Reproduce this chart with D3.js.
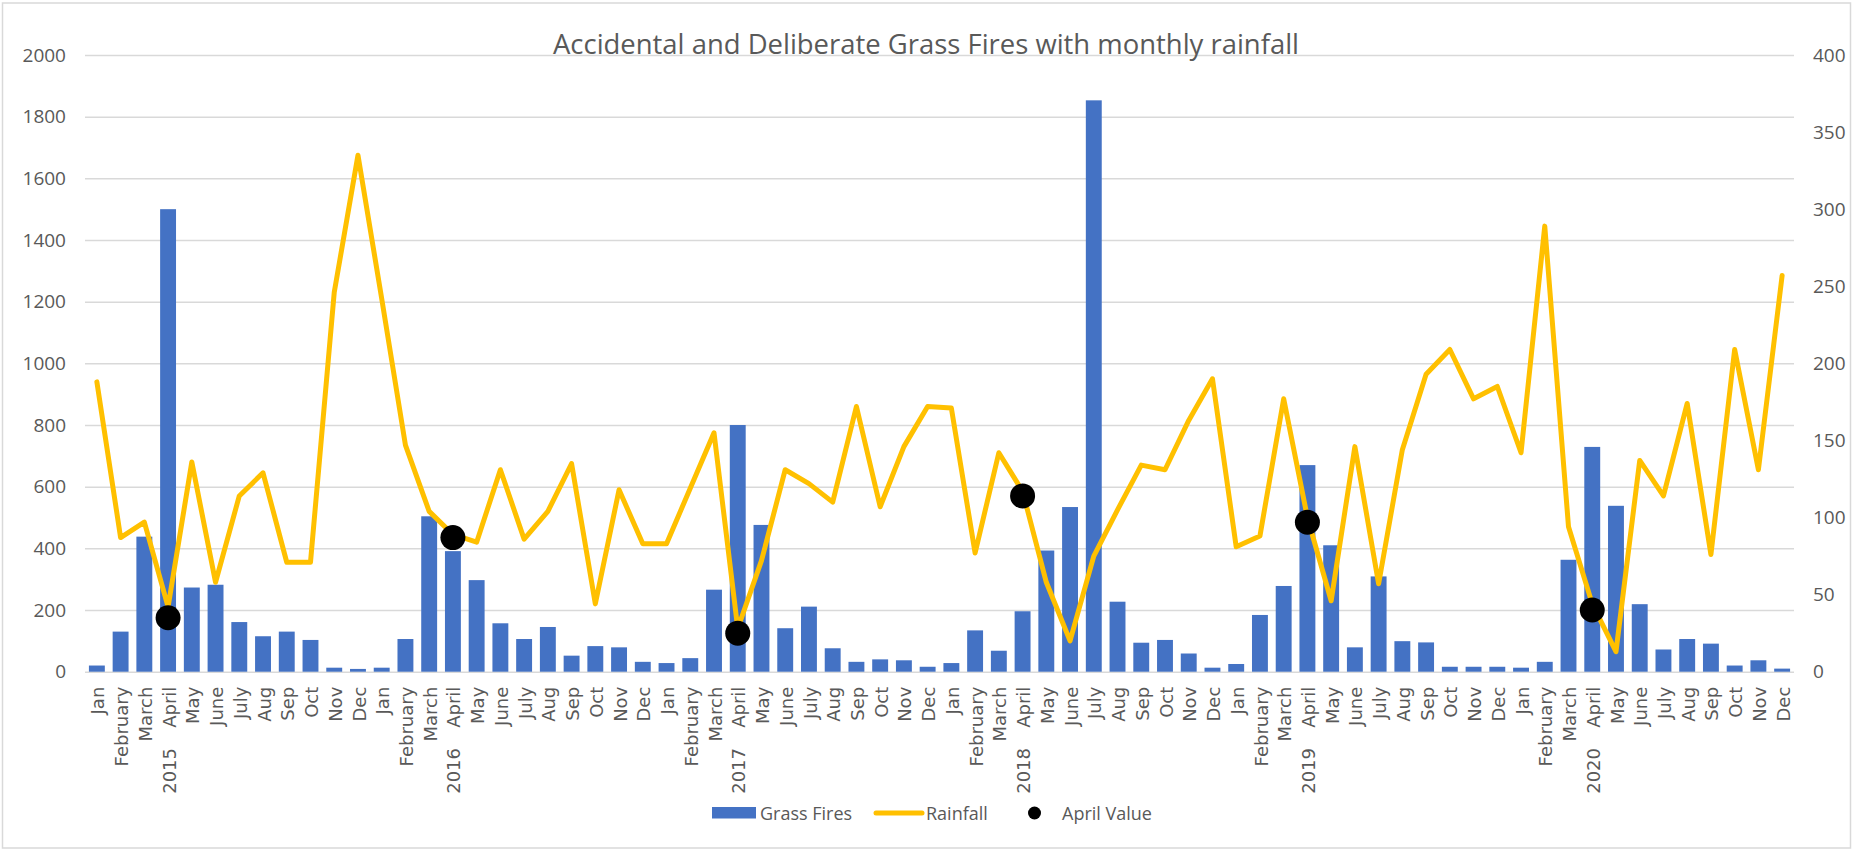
<!DOCTYPE html>
<html>
  <head>
    <meta charset="utf-8">
    <title>Grass Fires and Rainfall</title>
    <style>
      body {
        margin: 0;
        background: #ffffff;
      }
      text {
        fill: #595959;
      }
    </style>
    <script src="https://d3js.org/d3.v7.min.js"></script>
  </head>
  <body>
    <svg id="chart"></svg>
    <script>
      // Data (2015 - 2020, monthly)
      let years = ['2015', '2016', '2017', '2018', '2019', '2020'];
      let monthNames = ['Jan', 'February', 'March', 'April', 'May', 'June',
                        'July', 'Aug', 'Sep', 'Oct', 'Nov', 'Dec'];

      let grassFires = [
        20, 130, 438, 1500, 273, 282, 161, 115, 130, 103, 13, 9,
        13, 106, 504, 391, 297, 157, 106, 145, 52, 83, 79, 32,
        28, 44, 266, 800, 476, 141, 211, 76, 32, 40, 37, 16,
        28, 134, 68, 196, 393, 534, 1853, 227, 94, 103, 59, 13,
        25, 184, 278, 670, 410, 79, 309, 99, 95, 16, 16, 16,
        13, 32, 363, 729, 538, 219, 72, 106, 91, 20, 37, 10
      ];

      let rainfall = [
        188, 87, 97, 42, 136, 58, 114, 129, 71, 71, 246, 335,
        242, 147, 104, 89, 84, 131, 86, 104, 135, 44, 118, 83,
        83, 119, 155, 28, 72, 131, 122, 110, 172, 107, 146, 172,
        171, 77, 142, 117, 58, 20, 75, 105, 134, 131, 163, 190,
        81, 88, 177, 100, 46, 146, 57, 144, 193, 209, 177, 185,
        142, 289, 94, 44, 13, 137, 114, 174, 76, 209, 131, 257
      ];

      // the black markers, one per April
      let aprilValue = [35, 87, 25, 114, 97, 40];

      let leftTicks = [0, 200, 400, 600, 800, 1000, 1200, 1400, 1600, 1800, 2000];
      let rightTicks = [0, 50, 100, 150, 200, 250, 300, 350, 400];

      // Build one row per month
      let rows = grassFires.map((v, i) => ({
        key: i,
        month: monthNames[i % 12],
        year: years[Math.floor(i / 12)],
        fires: v,
        rain: rainfall[i]
      }));
      let aprils = years.map((y, k) => ({ key: k * 12 + 3, year: y, value: aprilValue[k] }));

      let width = 1853;
      let height = 851;
      let plotLeft = 85;
      let plotRight = 1794;
      let plotTop = 55;
      let plotBottom = 671.7;

      let svg = d3.select('#chart')
        .attr('width', width)
        .attr('height', height);

      // chart area border
      svg.append('rect')
        .attr('x', 2.5)
        .attr('y', 3)
        .attr('width', width - 5)
        .attr('height', height - 6)
        .attr('fill', '#ffffff')
        .attr('stroke', '#d9d9d9')
        .attr('stroke-width', 1.5);

      let xScale = d3.scaleBand()
        .domain(rows.map(d => d.key))
        .range([plotLeft, plotRight])
        .paddingInner(0.33)
        .paddingOuter(0.165);

      let yLeft = d3.scaleLinear()
        .domain([0, 2000])
        .range([plotBottom, plotTop]);

      let yRight = d3.scaleLinear()
        .domain([0, 400])
        .range([plotBottom, plotTop]);

      let xCenter = k => xScale(k) + xScale.bandwidth() / 2;

      // gridlines
      svg.append('g')
        .attr('transform', `translate(${plotLeft},0)`)
        .call(d3.axisLeft(yLeft).tickValues(leftTicks).tickSize(-(plotRight - plotLeft)).tickFormat(''))
        .call(g => g.select('.domain').remove())
        .call(g => g.selectAll('line').attr('stroke', '#d9d9d9').attr('stroke-width', 1.5));

      // left axis labels
      svg.append('g')
        .attr('transform', `translate(${plotLeft},0)`)
        .call(d3.axisLeft(yLeft).tickValues(leftTicks).tickSize(0).tickPadding(19).tickFormat(d3.format('d')))
        .call(g => g.select('.domain').remove())
        .call(g => g.selectAll('text')
          .attr('font-family', '"Open Sans", sans-serif')
          .attr('font-size', 19)
          .style('fill', '#595959'));

      // right axis labels
      svg.append('g')
        .attr('transform', `translate(${plotRight},0)`)
        .call(d3.axisRight(yRight).tickValues(rightTicks).tickSize(0).tickPadding(19).tickFormat(d3.format('d')))
        .call(g => g.select('.domain').remove())
        .call(g => g.selectAll('text')
          .attr('font-family', '"Open Sans", sans-serif')
          .attr('font-size', 19)
          .style('fill', '#595959'));

      // bars
      svg.append('g')
        .selectAll('rect')
        .data(rows)
        .join('rect')
        .attr('x', d => xScale(d.key))
        .attr('y', d => yLeft(d.fires))
        .attr('width', xScale.bandwidth())
        .attr('height', d => yLeft(0) - yLeft(d.fires))
        .attr('fill', '#4472c4');

      // month labels along the bottom
      svg.append('g')
        .attr('transform', `translate(0,${plotBottom})`)
        .call(d3.axisBottom(xScale).tickSize(0).tickFormat(k => rows[k].month))
        .call(g => g.select('.domain').remove())
        .call(g => g.selectAll('text')
          .attr('font-family', '"DejaVu Sans", Verdana, sans-serif')
          .attr('font-size', 18)
          .attr('transform', 'rotate(-90)')
          .attr('text-anchor', 'end')
          .attr('x', -15)
          .attr('y', 0)
          .attr('dy', '0.42em')
          .style('fill', '#595959'));

      // year labels under each April
      svg.append('g')
        .selectAll('text')
        .data(aprils)
        .join('text')
        .attr('transform', d => `translate(${xCenter(d.key)},748) rotate(-90)`)
        .attr('text-anchor', 'end')
        .attr('dy', '0.42em')
        .attr('font-family', '"DejaVu Sans", Verdana, sans-serif')
        .attr('font-size', 18)
        .text(d => d.year);

      // rainfall line
      let rainLine = d3.line()
        .x(d => xCenter(d.key))
        .y(d => yRight(d.rain));

      svg.append('path')
        .datum(rows)
        .attr('d', rainLine)
        .attr('fill', 'none')
        .attr('stroke', '#ffc000')
        .attr('stroke-width', 5)
        .attr('stroke-linejoin', 'round')
        .attr('stroke-linecap', 'round');

      // april markers
      svg.append('g')
        .selectAll('circle')
        .data(aprils)
        .join('circle')
        .attr('cx', d => xCenter(d.key))
        .attr('cy', d => yRight(d.value))
        .attr('r', 12.5)
        .attr('fill', '#000000');

      // title
      svg.append('text')
        .attr('x', 926)
        .attr('y', 54)
        .attr('text-anchor', 'middle')
        .attr('font-family', '"Open Sans", sans-serif')
        .attr('font-size', 27)
        .attr('textLength', 746)
        .attr('lengthAdjust', 'spacingAndGlyphs')
        .text('Accidental and Deliberate Grass Fires with monthly rainfall');

      // legend
      let legend = svg.append('g')
        .attr('font-family', '"Open Sans", sans-serif')
        .attr('font-size', 18);

      legend.append('rect')
        .attr('x', 712).attr('y', 807)
        .attr('width', 44).attr('height', 11.5)
        .attr('fill', '#4472c4');
      legend.append('text')
        .attr('x', 760).attr('y', 820)
        .text('Grass Fires');

      legend.append('line')
        .attr('x1', 876).attr('x2', 922)
        .attr('y1', 813).attr('y2', 813)
        .attr('stroke', '#ffc000')
        .attr('stroke-width', 5)
        .attr('stroke-linecap', 'round');
      legend.append('text')
        .attr('x', 926).attr('y', 820)
        .text('Rainfall');

      legend.append('circle')
        .attr('cx', 1034.5).attr('cy', 813)
        .attr('r', 6.5)
        .attr('fill', '#000000');
      legend.append('text')
        .attr('x', 1062).attr('y', 820)
        .text('April Value');
    </script>
  </body>
</html>
